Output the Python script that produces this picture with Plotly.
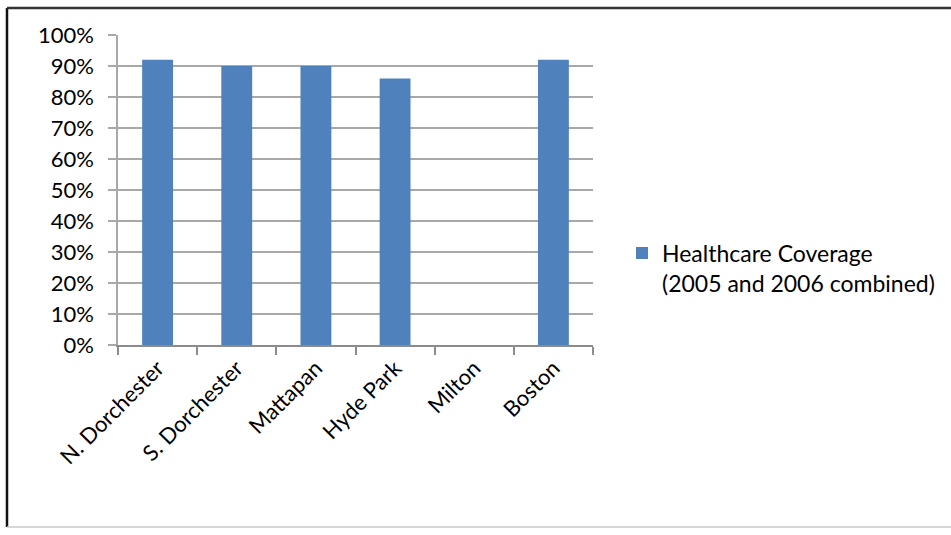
import plotly.graph_objects as go

categories = ["N. Dorchester", "S. Dorchester", "Mattapan", "Hyde Park", "Milton", "Boston"]
coverage = [0.92, 0.90, 0.90, 0.86, None, 0.92]
series_name = "Healthcare Coverage<br>(2005 and 2006 combined)"
y_ticks = [i / 10 for i in range(11)]

W, H = 951, 535
L, R, T, B = 118, 593, 35, 345

def px(x):
    return (x - L) / (R - L)

def py(y):
    return (B - y) / (B - T)

fig = go.Figure()
fig.add_trace(go.Bar(x=categories, y=coverage, name=series_name,
                     marker=dict(color="#4F81BD", line=dict(width=0))))

font = "Lato, 'Open Sans', sans-serif"
fig.update_layout(
    width=W, height=H,
    margin=dict(l=L, r=W - R, t=T, b=H - B, pad=0, autoexpand=False),
    paper_bgcolor="white", plot_bgcolor="white",
    bargap=0.61,
    showlegend=True,
    font=dict(family=font, size=23, color="#000000"),
    legend=dict(x=px(622), y=py(268), xanchor="left", yanchor="middle", valign="top",
                font=dict(size=23, color="#000000"), bgcolor="rgba(0,0,0,0)",
                itemwidth=30, tracegroupgap=0),
    xaxis=dict(type="category", showgrid=False, showline=True, linecolor="#8c8c8c",
               linewidth=1.5, ticks="outside", tickson="boundaries", ticklen=8,
               tickcolor="#8c8c8c", tickwidth=1.5, tickangle=-45,
               tickfont=dict(size=22, color="#000000")),
    yaxis=dict(range=[0, 1], tickvals=y_ticks, tickformat=".0%", showgrid=True,
               gridcolor="#a8a8a8", gridwidth=1.5, showline=True, linecolor="#a8a8a8",
               linewidth=1.5, ticks="outside", ticklen=8, tickcolor="#a8a8a8",
               tickwidth=1.5, zeroline=False, ticklabelstandoff=10,
               tickfont=dict(size=22, color="#000000")),
)

# outer frame (left, top dark; bottom light)
fig.add_shape(type="line", xref="paper", yref="paper", x0=px(7), x1=px(7), y0=py(8), y1=py(527),
              line=dict(color="#111111", width=2.5))
fig.add_shape(type="line", xref="paper", yref="paper", x0=px(7), x1=px(960), y0=py(8), y1=py(8),
              line=dict(color="#333333", width=2.5))
fig.add_shape(type="line", xref="paper", yref="paper", x0=px(7), x1=px(960), y0=py(527), y1=py(527),
              line=dict(color="#c8c8c8", width=1.5))

fig.write_html("out.html", config={"displayModeBar": False},
               post_script="document.body.style.margin='0px';")
